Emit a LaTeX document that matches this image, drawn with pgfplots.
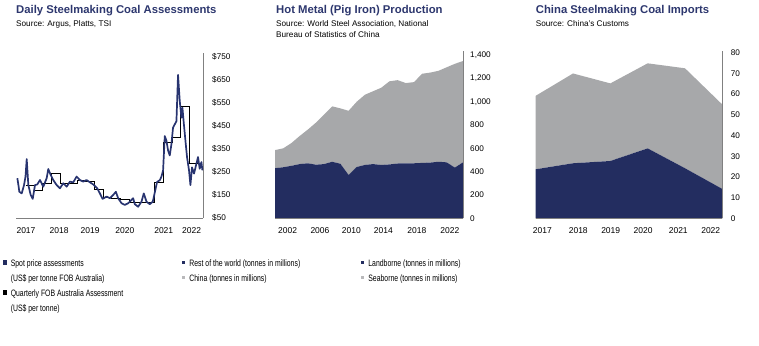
\documentclass[border=0pt]{standalone}
\usepackage{pgfplots}
\pgfplotsset{compat=1.18}
\usepackage{fontspec}
\setmainfont{Liberation Sans}
\newfontfamily\legfont[FakeStretch=0.74]{Liberation Sans}
\definecolor{navyc}{RGB}{35,45,96}
\definecolor{linec}{RGB}{40,52,112}
\definecolor{titlec}{RGB}{45,55,110}
\definecolor{grayc}{RGB}{167,168,170}
\definecolor{axisc}{RGB}{128,128,128}
\definecolor{leggray}{RGB}{185,185,187}

\pgfplotsset{
  base/.style={
    scale only axis,
    axis x line*=bottom, axis y line*=right,
    axis line style={draw=axisc, line width=0.9pt},
    major tick length=0pt,
    tick style={draw=none},
    /pgf/number format/assume math mode=true,
    /pgf/number format/1000 sep={,},
    xticklabel style={font=\fontsize{8.5}{10}\selectfont, inner sep=0pt, anchor=north, yshift=-9.5pt},
    yticklabel style={font=\fontsize{8.2}{10}\selectfont, inner sep=0pt, anchor=west},
    legend cell align=left,
    legend style={draw=none, fill=none, inner sep=0pt, outer sep=0pt, anchor=north west,
      row sep=7pt, column sep=4pt, font=\legfont\fontsize{9.3}{10}\selectfont,
      nodes={inner sep=0pt, text height=6.4pt, text depth=1.6pt}},
  },
  sq/.style={legend image code/.code={\fill[#1] (0pt,0pt) rectangle (3.4pt,3.4pt);}},
}

\begin{document}
\begin{tikzpicture}
\path[use as bounding box] (0,0) rectangle (759pt,-345pt);

% ---- titles ----
\node[anchor=base west, inner sep=0pt, font=\bfseries\fontsize{11.3}{13}\selectfont, text=titlec] at (16pt,-13.3pt) {Daily Steelmaking Coal Assessments};
\node[anchor=base west, inner sep=0pt, font=\fontsize{8.2}{10}\selectfont] at (16pt,-26.7pt) {Source: Argus, Platts, TSI};
\node[anchor=base west, inner sep=0pt, font=\bfseries\fontsize{11.3}{13}\selectfont, text=titlec] at (276pt,-13.3pt) {Hot Metal (Pig Iron) Production};
\node[anchor=base west, inner sep=0pt, font=\fontsize{8.2}{10}\selectfont] at (276pt,-26.7pt) {Source: World Steel Association, National};
\node[anchor=base west, inner sep=0pt, font=\fontsize{8.2}{10}\selectfont] at (276pt,-37.5pt) {Bureau of Statistics of China};
\node[anchor=base west, inner sep=0pt, font=\bfseries\fontsize{11.3}{13}\selectfont, text=titlec] at (535.7pt,-13.3pt) {China Steelmaking Coal Imports};
\node[anchor=base west, inner sep=0pt, font=\fontsize{8.2}{10}\selectfont] at (535.7pt,-26.7pt) {Source: China's Customs};

% ---- chart 1 ----
\begin{axis}[base, at={(16pt,-218pt)}, anchor=south west, width=187pt, height=165pt,
  xmin=2016.97, xmax=2022.4, ymin=50, ymax=767,
  xtick={2017.26,2018.22,2019.12,2020.13,2021.26,2022.07},
  xticklabels={2017,2018,2019,2020,2021,2022},
  ytick={50,150,...,750},
  yticklabels={\$50,\$150,\$250,\$350,\$450,\$550,\$650,\$750},
  yticklabel style={xshift=9pt},
  legend style={at={(axis description cs:-0.0695,-0.2545)}},
]
\addplot[black, line width=0.9pt, const plot, forget plot] coordinates {
(2017.25,193) (2017.50,170) (2017.75,200) (2018.00,242) (2018.25,200) (2018.50,200)
(2018.75,215) (2019.00,207) (2019.25,172) (2019.50,140) (2019.75,135) (2020.00,130)
(2020.25,117) (2020.50,117) (2020.75,117) (2021.00,203) (2021.25,377) (2021.50,401)
(2021.75,534) (2022.00,288) (2022.38,288)
};
\addplot[linec, line width=1.7pt, line join=round, forget plot] coordinates {
(2017.009,223) (2017.043,190) (2017.067,164) (2017.136,157) (2017.203,193) (2017.246,230)
(2017.281,306) (2017.328,193) (2017.397,150) (2017.455,133) (2017.522,193) (2017.588,196)
(2017.667,215) (2017.762,186) (2017.861,223) (2017.907,263) (2017.977,237) (2018.052,215)
(2018.151,193) (2018.246,179) (2018.342,201) (2018.441,186) (2018.536,208) (2018.632,205)
(2018.730,230) (2018.826,215) (2018.922,208) (2019.020,215) (2019.116,205) (2019.212,196)
(2019.328,179) (2019.406,157) (2019.484,133) (2019.600,143) (2019.696,136) (2019.791,150)
(2019.870,164) (2019.936,136) (2020.035,114) (2020.130,107) (2020.226,114) (2020.275,121)
(2020.371,136) (2020.420,110) (2020.516,99) (2020.614,121) (2020.681,157) (2020.759,121)
(2020.855,110) (2020.942,121) (2021.067,207) (2021.145,214) (2021.194,230) (2021.241,257)
(2021.290,406) (2021.339,386) (2021.386,343) (2021.435,322) (2021.484,372) (2021.530,443)
(2021.580,457) (2021.629,471) (2021.675,672) (2021.725,558) (2021.774,486) (2021.803,529)
(2021.841,464) (2021.899,372) (2021.936,315) (2021.994,257) (2022.035,193) (2022.081,270)
(2022.139,243) (2022.209,286) (2022.255,315) (2022.304,264) (2022.354,293) (2022.383,257)
};
\addlegendimage{sq=navyc}\addlegendentry{Spot price assessments}
\addlegendimage{empty legend}\addlegendentry{(US\$ per tonne FOB Australia)}
\addlegendimage{sq=black}\addlegendentry{Quarterly FOB Australia Assessment}
\addlegendimage{empty legend}\addlegendentry{(US\$ per tonne)}
\end{axis}

% ---- chart 2 ----
\begin{axis}[base, at={(275pt,-218.3pt)}, anchor=south west, width=188pt, height=167.3pt,
  xmin=2000, xmax=2023, ymin=0, ymax=1435, stack plots=y, axis on top,
  xtick={2001.55,2005.5,2009.35,2013.25,2017.35,2021.4},
  xticklabels={2002,2006,2010,2014,2018,2022},
  ytick={0,200,...,1400},
  yticklabel style={xshift=7pt},
  legend style={at={(axis description cs:-0.4947,-0.2493)}},
]
\addplot[fill=navyc, draw=none, sq=navyc] coordinates {
(2000,430) (2001,438) (2002,450) (2003,465) (2004,472) (2005,460) (2006,465) (2007,485)
(2008,468) (2009,372) (2010,440) (2011,458) (2012,465) (2013,458) (2014,462) (2015,470)
(2016,472) (2017,472) (2018,475) (2019,478) (2020,485) (2021,480) (2022,435) (2023,480)
} \closedcycle;
\addlegendentry{Rest of the world (tonnes in millions)}
\addplot[fill=grayc, draw=none, sq=leggray] coordinates {
(2000,155) (2001,162) (2002,195) (2003,240) (2004,288) (2005,360) (2006,425) (2007,475)
(2008,475) (2009,550) (2010,560) (2011,602) (2012,625) (2013,662) (2014,713) (2015,715)
(2016,688) (2017,696) (2018,765) (2019,772) (2020,780) (2021,815) (2022,890) (2023,869)
} \closedcycle;
\addlegendentry{China (tonnes in millions)}
\node[anchor=north west, inner sep=0pt, font=\fontsize{8.5}{10}\selectfont, xshift=8pt, yshift=-9.5pt] at (axis description cs:1,0) {Tonnes};
\end{axis}

% ---- chart 3 ----
\begin{axis}[base, at={(535.7pt,-218.3pt)}, anchor=south west, width=186.6pt, height=167.6pt,
  xmin=2017, xmax=2022, ymin=0, ymax=81, stack plots=y, axis on top,
  xtick={2017.18,2018.14,2019.01,2019.88,2020.82,2021.69},
  xticklabels={2017,2018,2019,2020,2021,2022},
  ytick={0,10,...,80},
  yticklabel style={xshift=8.4pt},
  legend style={at={(axis description cs:-0.9362,-0.2488)}},
]
\addplot[fill=navyc, draw=none, sq=navyc] coordinates {
(2017,23.7) (2018,26.6) (2019,27.7) (2020,33.8) (2021,24.2) (2022,14.2)
} \closedcycle;
\addlegendentry{Landborne (tonnes in millions)}
\addplot[fill=grayc, draw=none, sq=leggray] coordinates {
(2017,35.5) (2018,43.4) (2019,37.5) (2020,41.1) (2021,48.3) (2022,40.8)
} \closedcycle;
\addlegendentry{Seaborne (tonnes in millions)}
\node[anchor=north west, inner sep=0pt, font=\fontsize{8.5}{10}\selectfont, xshift=9.4pt, yshift=-9.5pt] at (axis description cs:1,0) {Tonnes};
\end{axis}
\end{tikzpicture}
\end{document}
